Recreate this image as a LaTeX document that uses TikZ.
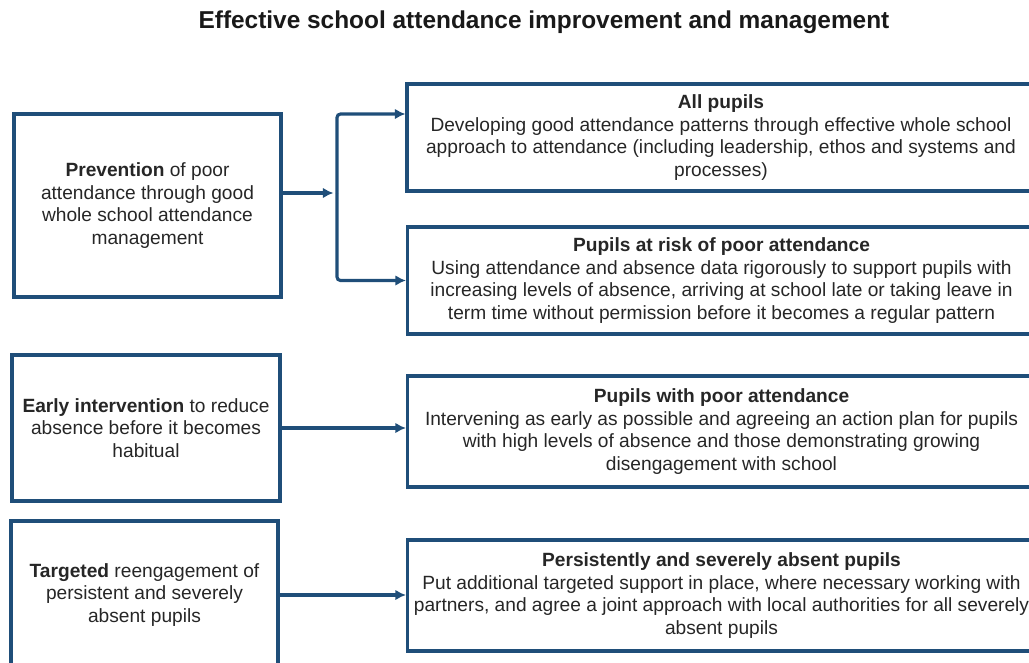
\documentclass[tikz,border=0pt]{standalone}
\usepackage{fontspec}
\setmainfont{Liberation Sans}
\usetikzlibrary{arrows.meta}
\definecolor{boxblue}{RGB}{31,78,121}
\tikzset{
	stage/.style={draw = boxblue, line width = 1.8pt, align = center, inner sep = 0pt, text = black!85,
		font = \fontsize{10.9}{12.9}\selectfont},
	flow/.style={draw = boxblue, line width = 1.8pt, rounded corners = 2pt, -{Latex[length = 6pt, width = 6pt]}}
}
\begin{document}
\begin{tikzpicture}[x = 0.02cm, y = 0.02cm]
		\useasboundingbox (0, 0) rectangle (1029, -663);
		\clip (0, 0) rectangle (1029, -663);
		\node[font = \bfseries\fontsize{13.9}{16}\selectfont, text = black!90] (title) at (544, -22) {Effective school attendance improvement and management};
		% left column
		\node[stage, minimum width = 5.34cm, minimum height = 3.66cm] (prevent) at (147.5, -205.5)
			{\textbf{Prevention} of poor\\attendance through good\\whole school attendance\\management};
		\node[stage, minimum width = 5.36cm, minimum height = 2.92cm] (early) at (146, -428)
			{\textbf{Early intervention} to reduce\\absence before it becomes\\habitual};
		\node[stage, minimum width = 5.34cm, minimum height = 2.96cm] (target) at (144.5, -595)
			{\textbf{Targeted} reengagement of\\persistent and severely\\absent pupils};
		% right column
		\node[stage, minimum width = 12.56cm, minimum height = 2.14cm] (allp) at (721, -137.5)
			{\textbf{All pupils}\\Developing good attendance patterns through effective whole school\\approach to attendance (including leadership, ethos and systems and\\processes)};
		\node[stage, minimum width = 12.56cm, minimum height = 2.14cm] (risk) at (721.5, -280.5)
			{\textbf{Pupils at risk of poor attendance}\\Using attendance and absence data rigorously to support pupils with\\increasing levels of absence, arriving at school late or taking leave in\\term time without permission before it becomes a regular pattern};
		\node[stage, minimum width = 12.56cm, minimum height = 2.22cm] (poor) at (721.5, -431.5)
			{\textbf{Pupils with poor attendance}\\Intervening as early as possible and agreeing an action plan for pupils\\with high levels of absence and those demonstrating growing\\disengagement with school};
		\node[stage, minimum width = 12.56cm, minimum height = 2.22cm] (severe) at (721.5, -595.5)
			{\textbf{Persistently and severely absent pupils}\\Put additional targeted support in place, where necessary working with\\partners, and agree a joint approach with local authorities for all severely\\absent pupils};
		% connectors
		\coordinate (fork) at (337, -193);
		\draw[flow] (prevent.east |- fork) -- ([xshift = -2pt]fork);
		\draw[flow] (fork) |- (allp.west |- 0, -114);
		\draw[flow] (fork) |- (risk.west);
		\draw[flow] (early.east) -- (early.east -| poor.west);
		\draw[flow] (target.east) -- (target.east -| severe.west);
		\end{tikzpicture}
\end{document}
